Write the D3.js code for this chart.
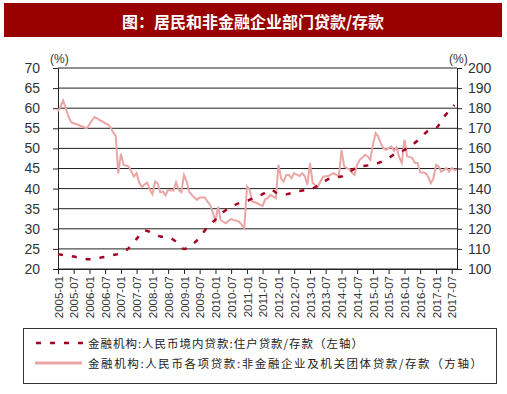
<!DOCTYPE html>
<html>
<head>
<meta charset="utf-8">
<script src="https://cdn.jsdelivr.net/npm/d3@7"></script>
<style>
  body { margin: 0; background: #fff; }
  svg { display: block; }
</style>
</head>
<body>
<svg id="chart" width="507" height="394"></svg>
<script>
// household loans / deposits (left axis), quarterly from 2005-01
const householdDates = [
  '2005-01','2005-04','2005-07','2005-10','2006-01','2006-04','2006-07','2006-10',
  '2007-01','2007-04','2007-07','2007-10','2008-01','2008-04','2008-07','2008-10',
  '2009-01','2009-04','2009-07','2009-10','2010-01','2010-04','2010-07','2010-10',
  '2011-01','2011-04','2011-07','2011-10','2012-01','2012-04','2012-07','2012-10',
  '2013-01','2013-04','2013-07','2013-10','2014-01','2014-04','2014-07','2014-10',
  '2015-01','2015-04','2015-07','2015-10','2016-01','2016-04','2016-07','2016-10',
  '2017-01','2017-04','2017-07','2017-08'
];
const householdRatio = [
  23.7, 23.4, 23.1, 22.7, 22.4, 22.7, 23.0, 23.5,
  23.9, 25.2, 27.5, 29.6, 29.0, 28.1, 27.9, 26.8,
  25.0, 26.0, 27.8, 30.5, 32.3, 34.2, 35.4, 36.4,
  36.9, 37.8, 38.6, 39.8, 38.7, 38.6, 39.2, 39.5,
  39.8, 40.7, 42.0, 42.8, 43.0, 44.1, 45.3, 45.7,
  45.9, 46.6, 47.6, 48.9, 49.6, 50.9, 52.5, 54.4,
  55.0, 57.8, 60.0, 60.8
];

// non-financial corporate loans / deposits (right axis), monthly from 2005-01
const corporateStart = '2005-01';
const corporateRatio = [
  178.4, 181.0, 183.8, 180.0, 176.0, 173.0, 172.5, 172.0, 171.5, 171.0, 170.5, 170.0,
  172.0, 174.0, 175.6, 175.0, 174.0, 173.5, 172.5, 172.0, 170.6, 168.0, 166.3, 147.6,
  157.4, 151.8, 151.5, 151.0, 148.5, 146.0, 147.7, 143.0, 140.7, 142.0, 143.0, 139.5,
  137.2, 143.5, 142.6, 138.2, 138.5, 136.7, 139.4, 139.2, 139.0, 143.2, 139.4, 138.2,
  146.8, 143.5, 138.5, 136.9, 135.5, 134.4, 135.6, 135.6, 135.6, 133.5, 131.9, 128.0,
  124.1, 131.0, 124.4, 123.5, 122.8, 124.0, 124.8, 124.3, 124.0, 123.6, 122.0, 120.3,
  141.0, 139.4, 133.6, 133.2, 132.7, 131.9, 131.4, 134.7, 135.5, 136.9, 136.0, 135.2,
  151.8, 145.0, 143.5, 146.8, 146.8, 145.2, 147.7, 147.0, 146.3, 147.7, 146.3, 141.9,
  152.7, 142.7, 141.8, 141.0, 143.5, 146.0, 146.2, 146.3, 147.0, 147.7, 146.8, 146.0,
  159.3, 151.0, 150.2, 149.7, 148.0, 146.8, 151.8, 154.3, 155.5, 156.8, 156.0, 154.3,
  162.0, 167.6, 166.0, 162.6, 160.1, 159.3, 160.0, 161.0, 158.8, 160.6, 155.6, 152.7,
  164.3, 156.0, 155.8, 155.2, 152.7, 152.7, 148.0, 148.0, 147.7, 146.0, 142.7, 145.0,
  151.8, 151.0, 148.5, 149.2, 150.2, 148.5, 150.2, 149.3, 149.5
];

const leftTicks = [20, 25, 30, 35, 40, 45, 50, 55, 60, 65, 70];
const rightTicks = [100, 110, 120, 130, 140, 150, 160, 170, 180, 190, 200];
const xStart = '2005-01', xEnd = '2017-09';

const titleText = '图：居民和非金融企业部门贷款/存款';
const legendLabels = [
  '金融机构:人民币境内贷款:住户贷款/存款（左轴）',
  '金融机构:人民币各项贷款:非金融企业及机关团体贷款/存款（方轴）'
];

const parse = d3.timeParse('%Y-%m');
const svg = d3.select('#chart');

const plot = { left: 58, right: 457, top: 68, bottom: 269 };

const x = d3.scaleTime()
  .domain([parse(xStart), parse(xEnd)])
  .range([plot.left, plot.right]);
const yL = d3.scaleLinear().domain([20, 70]).range([plot.bottom, plot.top]);
const yR = d3.scaleLinear().domain([100, 200]).range([plot.bottom, plot.top]);

// title bar
svg.append('rect')
  .attr('x', 4).attr('y', 3).attr('width', 498).attr('height', 34)
  .attr('fill', '#990000');
svg.append('text')
  .attr('x', 253).attr('y', 21)
  .attr('text-anchor', 'middle').attr('dominant-baseline', 'central')
  .attr('fill', '#fff')
  .style('font', 'bold 16px "Noto Sans CJK SC", sans-serif')
  .text(titleText);

// gridlines
svg.append('g')
  .selectAll('line')
  .data(leftTicks)
  .enter()
  .append('line')
  .attr('x1', plot.left).attr('x2', plot.right)
  .attr('y1', d => yL(d)).attr('y2', d => yL(d))
  .attr('stroke', '#222').attr('stroke-width', 1);

const tickFont = '14px "Liberation Sans", Arial, sans-serif';

const leftAxis = svg.append('g')
  .attr('transform', `translate(${plot.left},0)`)
  .call(d3.axisLeft(yL).tickValues(leftTicks).tickSize(5).tickPadding(13));
const rightAxis = svg.append('g')
  .attr('transform', `translate(${plot.right},0)`)
  .call(d3.axisRight(yR).tickValues(rightTicks).tickSize(5).tickPadding(6));

const xTicks = d3.timeMonth.every(6).range(parse(xStart), d3.timeMonth.offset(parse('2017-07'), 1));
const bottomAxis = svg.append('g')
  .attr('transform', `translate(0,${plot.bottom})`)
  .call(d3.axisBottom(x).tickValues(xTicks).tickFormat(d3.timeFormat('%Y-%m')).tickSize(5).tickSizeOuter(0));

[leftAxis, rightAxis, bottomAxis].forEach(g => {
  g.select('.domain').attr('stroke', '#222');
  g.selectAll('.tick line').attr('stroke', '#222');
});
leftAxis.selectAll('text').style('font', tickFont).attr('fill', '#333');
rightAxis.selectAll('text').style('font', tickFont).attr('fill', '#333');
bottomAxis.selectAll('text')
  .style('font', '11.5px "Liberation Sans", Arial, sans-serif')
  .attr('fill', '#333')
  .attr('transform', 'rotate(-90)')
  .attr('text-anchor', 'end')
  .attr('x', -7).attr('y', 0).attr('dy', '0.35em');

// unit labels
svg.append('text').attr('x', 50).attr('y', 63)
  .style('font', '12px "Liberation Sans", Arial, sans-serif').attr('fill', '#333').text('(%)');
svg.append('text').attr('x', 449).attr('y', 63)
  .style('font', '12px "Liberation Sans", Arial, sans-serif').attr('fill', '#333').text('(%)');

// corporate series
const corpData = corporateRatio.map((v, i) => ({ date: d3.timeMonth.offset(parse(corporateStart), i), value: v }));
svg.append('path')
  .datum(corpData)
  .attr('fill', 'none')
  .attr('stroke', '#eaa5a5')
  .attr('stroke-width', 2)
  .attr('d', d3.line().x(d => x(d.date)).y(d => yR(d.value)));

// household series
const houseData = householdDates.map((d, i) => ({ date: parse(d), value: householdRatio[i] }));
svg.append('path')
  .datum(houseData)
  .attr('fill', 'none')
  .attr('stroke', '#a50021')
  .attr('stroke-width', 2.5)
  .attr('stroke-dasharray', '5,9')
  .attr('d', d3.line().curve(d3.curveMonotoneX).x(d => x(d.date)).y(d => yL(d.value)));

// legend
svg.append('rect')
  .attr('x', 23.5).attr('y', 328.5).attr('width', 473).attr('height', 55)
  .attr('fill', 'none').attr('stroke', '#333').attr('stroke-width', 1);

const legend = svg.append('g');
legend.append('line')
  .attr('x1', 36).attr('x2', 84).attr('y1', 343).attr('y2', 343)
  .attr('stroke', '#a50021').attr('stroke-width', 2.5).attr('stroke-dasharray', '5,9');
legend.append('line')
  .attr('x1', 35).attr('x2', 82).attr('y1', 363).attr('y2', 363)
  .attr('stroke', '#eaa5a5').attr('stroke-width', 3);

const legendWidths = [275, 394];
legend.selectAll('text.lbl')
  .data(legendLabels)
  .enter()
  .append('text')
  .attr('class', 'lbl')
  .attr('x', 88)
  .attr('y', (d, i) => 343 + i * 20)
  .attr('dominant-baseline', 'central')
  .attr('textLength', (d, i) => legendWidths[i])
  .attr('lengthAdjust', 'spacing')
  .attr('fill', '#222')
  .style('font', '11.5px "Noto Sans CJK SC", sans-serif')
  .text(d => d);
</script>
</body>
</html>
